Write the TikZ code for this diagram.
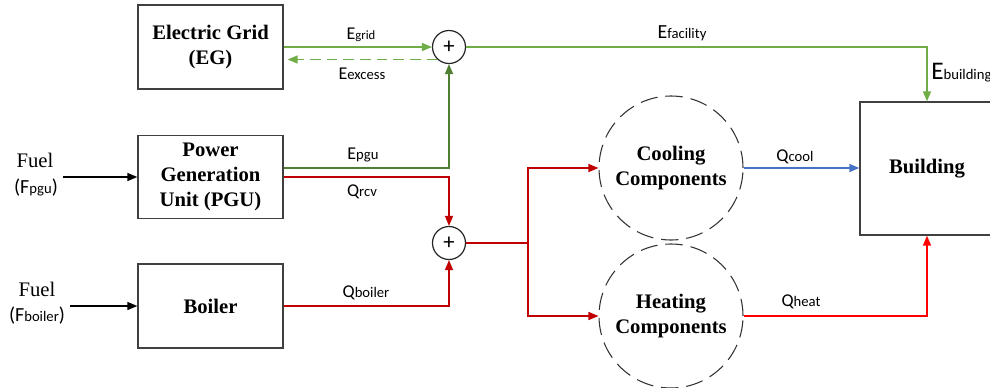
\documentclass[tikz,border=0pt]{standalone}
\usepackage{fontspec}
\setmainfont{Liberation Serif}
\newfontfamily\calfont{Carlito}
\usetikzlibrary{arrows.meta}
\definecolor{lgc}{HTML}{70AD47}
\definecolor{dgc}{HTML}{507E32}
\definecolor{rdc}{HTML}{C00000}
\definecolor{brc}{HTML}{FF0000}
\definecolor{blc}{HTML}{4472C4}
\definecolor{boxc}{HTML}{404040}
\newcommand\lbl[3][13.5]{{\calfont\fontsize{#1}{15}\selectfont #2\fontsize{11}{12}\selectfont #3}}
\begin{document}
\begin{tikzpicture}[x=0.75pt,y=-0.75pt,
  box/.style={draw=boxc,line width=1pt,minimum width=108.75pt,minimum height=63pt,align=center,inner sep=0pt,
    font=\fontsize{15.5}{18.75}\selectfont\bfseries},
  plus/.style={draw=black!85,circle,line width=0.9pt,minimum size=24.75pt,inner sep=0pt,
    font=\calfont\fontsize{17}{17}\selectfont},
  comp/.style={draw=black!80,circle,line width=0.8pt,dash pattern=on 13pt off 6pt,minimum size=108pt,inner sep=0pt,align=center,
    font=\fontsize{15.5}{18.75}\selectfont\bfseries},
  conn/.style={line width=1.1pt},
  arr/.style={conn,-{Triangle[length=7.5pt,width=6pt]}},
  txt/.style={inner sep=0pt},
  fuel/.style={inner sep=0pt,font=\fontsize{15.5}{18}\selectfont}
]
\useasboundingbox (0,0) rectangle (990,387);

% boxes
\node[box] (eg) at (210.5,47) {Electric Grid\\(EG)};
\node[box,minimum height=62.25pt] (pgu) at (210.5,177) {Power\\Generation\\Unit (PGU)};
\node[box] (boiler) at (210.5,306) {Boiler};
\node[box,minimum width=100.5pt,minimum height=99.75pt] (bld) at (927,168.5) {Building};

% summing junctions
\node[plus] (p1) at (449,47) {+};
\node[plus] (p2) at (449,243) {+};

% components
\node[comp] (cool) at (671,168) {Cooling\\Components};
\node[comp] (heat) at (671,316) {Heating\\Components};

% fuel inputs
\node[fuel] (fuel1) at (35,160) {Fuel};
\node[txt] (fpgu) at (36,188) {\calfont\fontsize{15}{16}\selectfont (F\fontsize{11}{12}\selectfont pgu\fontsize{15}{16}\selectfont )};
\node[fuel] (fuel2) at (37,289) {Fuel};
\node[txt] (fboil) at (37,316) {\calfont\fontsize{15}{16}\selectfont (F\fontsize{11}{12}\selectfont boiler\fontsize{15}{16}\selectfont )};
\coordinate (f1) at (63,177);
\coordinate (f2) at (70,306);
\draw[arr,black] (f1) -- (f1 -| pgu.west);
\draw[arr,black] (f2) -- (f2 -| boiler.west);

% electricity
\draw[arr,lgc] (eg.east) -- (p1.west);
\draw[arr,lgc,line width=1.2pt,dash pattern=on 8pt off 4.5pt] (p1.227) -- ([xshift=3pt]p1.227 -| eg.east);
\draw[arr,dgc] ([yshift=6.75pt]pgu.east) -| (p1.south);
\draw[arr,lgc] (p1.east) -| (bld.north);

% heat
\draw[arr,rdc] (pgu.east) -| (p2.north);
\draw[arr,rdc] (boiler.east) -| (p2.south);
\coordinate (sp) at (528,243);
\draw[conn,rdc] (p2.east) -- (sp);
\draw[arr,rdc] (sp) |- (cool.west);
\draw[arr,rdc] (sp) |- (heat.west);
\draw[arr,blc] (cool.east) -- (cool.east -| bld.west);
\draw[arr,brc] (heat.east) -| (bld.south);

% labels
\node[txt] (lgrid) at (361,35) {{\calfont\fontsize{13.5}{15}\selectfont E\fontsize{9.5}{12}\selectfont grid}};
\node[txt] (lexc) at (362,74) {\lbl{E}{excess}};
\node[txt] (lfac) at (682,33) {\lbl[15]{E}{facility}};
\node[txt,anchor=base west] (lbld) at (931,79) {\lbl[19]{E}{building}};
\node[txt] (lpgu) at (363,155) {\lbl{E}{pgu}};
\node[txt] (lrcv) at (362,192) {\lbl{Q}{rcv}};
\node[txt] (lboil) at (366,293) {\lbl{Q}{boiler}};
\node[txt] (lcool) at (795,157) {\lbl{Q}{cool}};
\node[txt] (lheat) at (801,302) {\lbl{Q}{heat}};
\end{tikzpicture}
\end{document}
